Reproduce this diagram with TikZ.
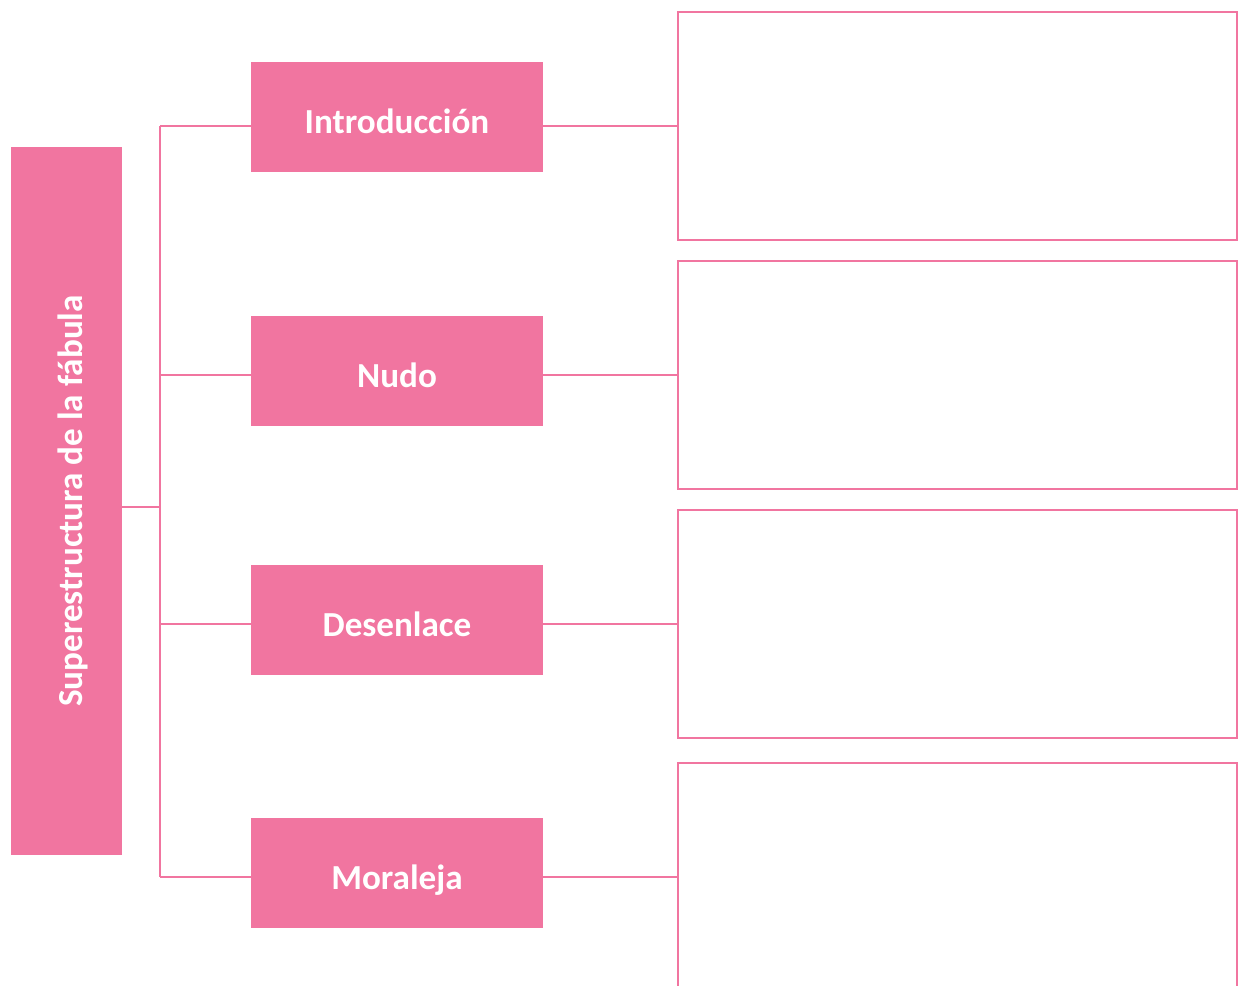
\documentclass[tikz,border=0pt]{standalone}
\usepackage{fontspec}
\setmainfont{Carlito}
\usepackage{xcolor}
\usetikzlibrary{positioning}
\definecolor{rosa}{HTML}{F175A0}

\begin{document}
\begin{tikzpicture}[x=0.02cm,y=-0.02cm,
  partbox/.style={fill=rosa, text=white, font=\fontsize{20}{24}\selectfont\bfseries,
    minimum width=5.84cm, minimum height=2.2cm, inner sep=0pt,
    text height=0.7cm, text depth=0.04cm},
  answerbox/.style={draw=rosa, line width=1.25pt, minimum width=11.18cm, minimum height=4.56cm, inner sep=0pt},
  link/.style={draw=rosa, line width=1.25pt}]
\useasboundingbox (0,0) rectangle (1238,985);

% title bar
\node[fill=rosa, minimum width=2.22cm, minimum height=14.16cm, inner sep=0pt] (title) at (66.5,501) {};
\node[rotate=90, text=white, font=\fontsize{20}{24}\selectfont\bfseries] at (73,501) {Superestructura de la fábula};

% parts
\node[partbox] (intro) at (397,117) {Introducción};
\node[partbox] (nudo) at (397,371) {Nudo};
\node[partbox] (desen) at (397,620) {Desenlace};
\node[partbox] (moral) at (397,873) {Moraleja};

% empty boxes
\node[answerbox] (a1) at (957.5,126) {};
\node[answerbox] (a2) at (957.5,375) {};
\node[answerbox] (a3) at (957.5,624) {};
\node[answerbox, minimum height=5cm] (a4) at (957.5,888) {};

% rows
\coordinate (r1) at (0,126);
\coordinate (r2) at (0,375);
\coordinate (r3) at (0,624);
\coordinate (r4) at (0,877);
\coordinate (bar) at (160,507);

\draw[link] (title.east |- bar) -- (bar);
\draw[link] (bar |- r1) -- (bar |- r4);
\foreach \p/\a/\r in {intro/a1/r1, nudo/a2/r2, desen/a3/r3, moral/a4/r4}{
  \draw[link] (bar |- \r) -- (\p.west |- \r);
  \draw[link] (\p.east |- \r) -- (\a.west |- \r);
}
\end{tikzpicture}
\end{document}
